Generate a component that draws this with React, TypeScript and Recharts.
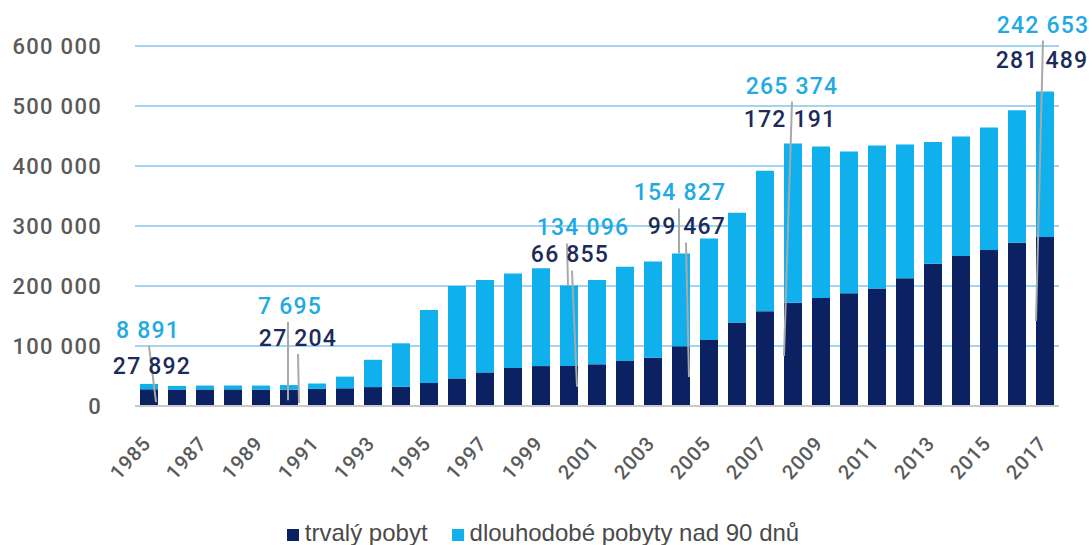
import React from 'react'
import { BarChart, Bar, XAxis, YAxis, CartesianGrid, Legend, LabelList } from 'recharts'

const years = [
  '1985', '1986', '1987', '1988', '1989', '1990', '1991', '1992', '1993', '1994', '1995',
  '1996', '1997', '1998', '1999', '2000', '2001', '2002', '2003', '2004', '2005', '2006',
  '2007', '2008', '2009', '2010', '2011', '2012', '2013', '2014', '2015', '2016', '2017',
]

// trvalý pobyt
const permanent = [
  27892, 27500, 27600, 27700, 27400, 27204, 28500, 29500, 31500, 32000, 38500,
  46000, 56000, 63500, 66500, 66855, 69500, 75000, 80500, 99467, 110000, 139000,
  158000, 172191, 180000, 188000, 196000, 213000, 237000, 250000, 260000, 272000, 281489,
]

// dlouhodobé pobyty nad 90 dnů
const longTerm = [
  8891, 6000, 6500, 6500, 6700, 7695, 9000, 19500, 45500, 72500, 121500,
  154000, 154000, 157500, 163000, 134096, 140500, 157000, 160500, 154827, 169000, 183000,
  234000, 265374, 252500, 236000, 238000, 223000, 203000, 199000, 204000, 221000, 242653,
]

const yTicks = [0, 100000, 200000, 300000, 400000, 500000, 600000]

const data = years.map((year, i) => ({ year, permanent: permanent[i], longTerm: longTerm[i] }))

const DARK = '#0b2161'
const LIGHT = '#0fb0ec'
const DARK_TEXT = '#1c2b5a'
const LIGHT_TEXT = '#22aae2'
const GREY = '#5a5a5a'

// manually placed callouts (offsets from bar centre / stack top, px)
const callouts: Record<string, any> = {
  '1985': { light: [-1, -54], dark: [3, -18], lines: [[0, 'light', 7, 0.82]] },
  '1990': { light: [1, -79], dark: [9, -47], lines: [[-1, 'light', -1, 0.73], [9, 'dark', 10, 0.86]] },
  '2000': { light: [14, -58], dark: [1, -31], lines: [[-2, 'light', -1, 0], [3, 'dark', 8, 0.84]] },
  '2004': { light: [-1, -61], dark: [6, -27], lines: [[-2, 'light', -2, 0], [5, 'dark', 8, 0.81]] },
  '2008': { light: [-1, -58], dark: [-3, -25], lines: [[-1, 'light', -9, 0.81]] },
  '2017': { light: [-2, -67], dark: [-3, -32], lines: [[-2, 'light', -9, 0.73]] },
}

const fmt = (v: number) => String(v).replace(/\B(?=(\d{3})+(?!\d))/g, ' ')

const labelFont = { fontFamily: 'Roboto', fontWeight: 500, fontSize: 23, letterSpacing: 1.2 }

function Callout(props: any) {
  const index = props.index
  const c = callouts[years[index]]
  if (!c) return null
  const vb = props.viewBox || props
  const x = vb.x ?? props.x
  const y = vb.y ?? props.y
  const w = vb.width ?? vb.upperWidth ?? props.width
  const h = vb.height ?? props.height
  const cx = x + w / 2
  const ppu = h / longTerm[index]
  const base = y + h + permanent[index] * ppu
  const lightY = y + c.light[1]
  const darkY = y + c.dark[1]
  return (
    <g>
      {c.lines.map((l: any, k: number) => (
        <line
          key={k}
          x1={cx + l[0]}
          y1={(l[1] === 'light' ? lightY : darkY) + 16}
          x2={cx + l[2]}
          y2={y + l[3] * (base - y)}
          stroke="#a9a9a9"
          strokeWidth={2}
        />
      ))}
      <text x={cx + c.light[0]} y={lightY} dy="0.35em" textAnchor="middle" fill={LIGHT_TEXT} {...labelFont}>
        {fmt(longTerm[index])}
      </text>
      <text x={cx + c.dark[0]} y={darkY} dy="0.35em" textAnchor="middle" fill={DARK_TEXT} {...labelFont}>
        {fmt(permanent[index])}
      </text>
    </g>
  )
}

function YearTick(props: any) {
  const { x, y, payload } = props
  return (
    <g transform={`translate(${x + 3},${y + 30})`}>
      <text transform="rotate(-48)" textAnchor="end" fill={GREY} fontFamily="Roboto" fontWeight={500} fontSize={20} letterSpacing={1}>
        {payload.value}
      </text>
    </g>
  )
}

function LegendContent() {
  const items = [
    { name: 'trvalý pobyt', color: DARK },
    { name: 'dlouhodobé pobyty nad 90 dnů', color: LIGHT },
  ]
  return (
    <div
      style={{
        display: 'flex',
        justifyContent: 'center',
        gap: 24,
        fontFamily: 'Liberation Sans',
        fontSize: 24,
        lineHeight: '28px',
        color: '#4a4a4a',
        paddingRight: 6,
      }}
    >
      {items.map((it) => (
        <div key={it.name} style={{ display: 'flex', alignItems: 'center' }}>
          <span style={{ display: 'inline-block', width: 12, height: 12, background: it.color, marginRight: 6, marginTop: 4 }} />
          {it.name}
        </div>
      ))}
    </div>
  )
}

export default function App() {
  return (
    <div style={{ position: 'absolute', left: 0, top: 0, width: 1092, height: 545, background: '#fff' }}>
      <BarChart width={1092} height={545} data={data} margin={{ top: 46, right: 33, left: 0, bottom: 59 }} barSize={18}>
        <CartesianGrid vertical={false} stroke="#46a9df" strokeWidth={1} />
        <XAxis
          dataKey="year"
          interval={1}
          height={80}
          tick={<YearTick />}
          tickLine={false}
          axisLine={{ stroke: '#c9c9c9', strokeWidth: 2 }}
        />
        <YAxis
          domain={[0, 600000]}
          ticks={yTicks}
          width={135}
          tickFormatter={fmt}
          axisLine={false}
          tickLine={false}
          tickSize={0}
          tickMargin={33}
          tick={{ fill: GREY, fontFamily: 'Roboto', fontWeight: 500, fontSize: 22, letterSpacing: 1.3 }}
        />
        <Legend
          layout="horizontal"
          verticalAlign="middle"
          align="center"
          content={<LegendContent />}
          wrapperStyle={{ top: 519, left: 0, width: 1092 }}
        />
        <Bar dataKey="permanent" name="trvalý pobyt" stackId="a" fill={DARK} isAnimationActive={false} />
        <Bar dataKey="longTerm" name="dlouhodobé pobyty nad 90 dnů" stackId="a" fill={LIGHT} isAnimationActive={false}>
          <LabelList dataKey="longTerm" content={<Callout />} />
        </Bar>
      </BarChart>
    </div>
  )
}
